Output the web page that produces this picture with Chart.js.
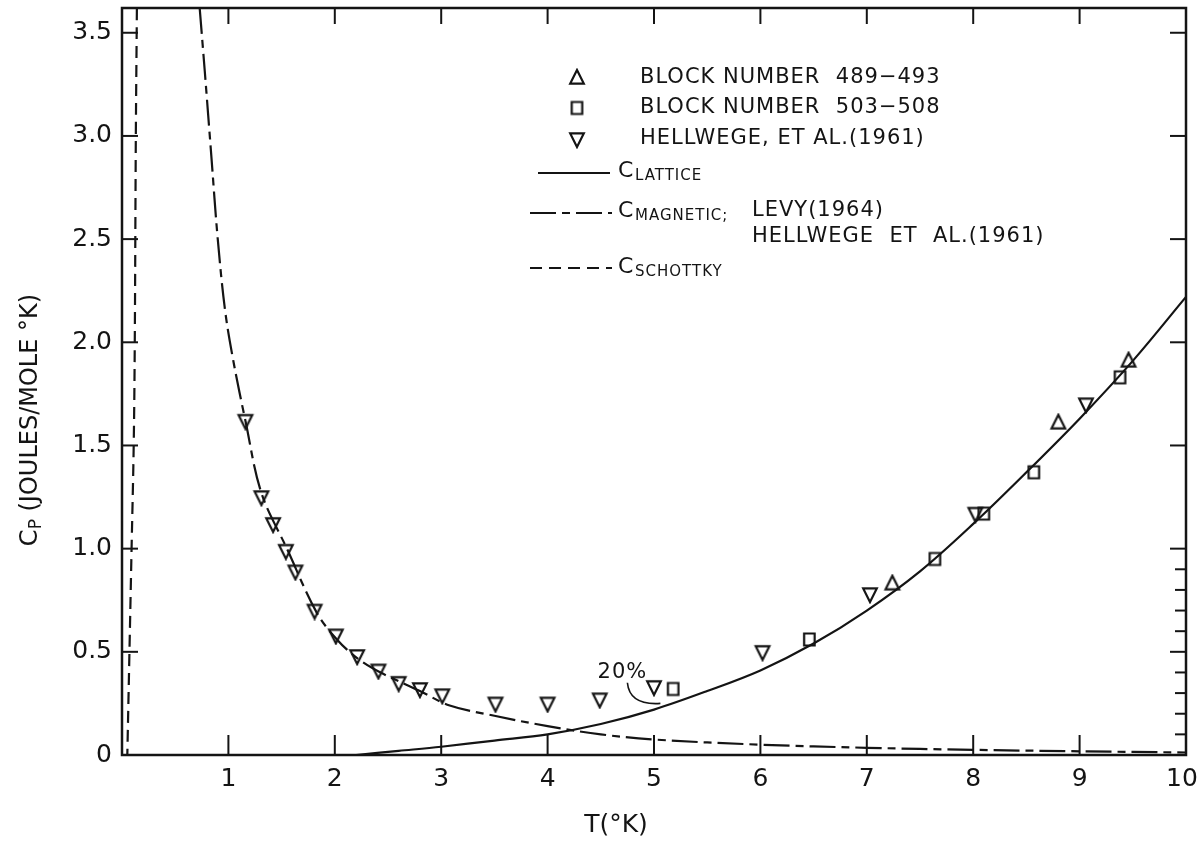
<!DOCTYPE html>
<html>
<head>
<meta charset="utf-8">
<script src="https://cdn.jsdelivr.net/npm/chart.js@4.4.0/dist/chart.umd.min.js"></script>
<style>
  html, body { margin: 0; padding: 0; background: #fff; }
  #wrap { width: 1200px; height: 844px; position: relative; }
</style>
</head>
<body>
<div id="wrap"><canvas id="cp"></canvas></div>
<script>
// ── Data ────────────────────────────────────────────────────────────────────
var xTicks = [1, 2, 3, 4, 5, 6, 7, 8, 9, 10];
var xTickLabels = ['1', '2', '3', '4', '5', '6', '7', '8', '9', '10'];
var yTicks = [0, 0.5, 1, 1.5, 2, 2.5, 3, 3.5];
var yTickLabels = ['0', '0.5', '1.0', '1.5', '2.0', '2.5', '3.0', '3.5'];
var yMinorRight = [0.1, 0.2, 0.3, 0.4, 0.6, 0.7, 0.8, 0.9];

// Block number 489-493 (up triangles)
var block489T  = [7.24, 8.8, 9.46];
var block489Cp = [0.83, 1.61, 1.91];

// Block number 503-508 (squares)
var block503T  = [5.18, 6.46, 7.64, 8.1, 8.57, 9.38];
var block503Cp = [0.32, 0.56, 0.95, 1.17, 1.37, 1.83];

// Hellwege et al. (1961) (down triangles)
var hellwegeT  = [1.16, 1.31, 1.42, 1.54, 1.63, 1.81, 2.01, 2.21, 2.41, 2.60, 2.80, 3.01, 3.51, 4.0, 4.49, 5.0, 6.02, 7.03, 8.02, 9.06];
var hellwegeCp = [1.62, 1.25, 1.12, 0.99, 0.89, 0.70, 0.58, 0.48, 0.41, 0.35, 0.32, 0.29, 0.25, 0.25, 0.27, 0.33, 0.50, 0.78, 1.17, 1.70];

// C lattice (solid)
var latticeT  = [2.2, 2.6, 3.0, 3.5, 4.0, 4.5, 5.0, 5.5, 6.0, 6.5, 7.0, 7.5, 8.0, 8.5, 9.0, 9.5, 10.0];
var latticeCp = [0.0, 0.02, 0.04, 0.07, 0.10, 0.15, 0.22, 0.31, 0.41, 0.54, 0.70, 0.89, 1.12, 1.37, 1.63, 1.91, 2.22];

// C magnetic (long dash - short dash)
var magneticT  = [0.73, 0.78, 0.84, 0.9, 0.97, 1.05, 1.16, 1.31, 1.55, 1.83, 2.02, 2.21, 2.43, 2.8, 3.08, 3.5, 4.0, 4.5, 5.0, 6.0, 7.0, 8.0, 9.0, 10.0];
var magneticCp = [3.62, 3.3, 2.9, 2.5, 2.15, 1.9, 1.62, 1.27, 1.0, 0.69, 0.56, 0.47, 0.40, 0.31, 0.24, 0.19, 0.14, 0.10, 0.075, 0.05, 0.035, 0.025, 0.018, 0.012];

// C Schottky (short dashes) - steep rise near T = 0
var schottkyT  = [0.14, 0.13, 0.12, 0.11, 0.09, 0.07, 0.05];
var schottkyCp = [3.62, 3.0, 2.0, 1.5, 1.0, 0.5, 0.0];

function pts(xs, ys) {
    return xs.map(function(x, i) { return { x: x, y: ys[i] }; });
}

// ── Markers ────────────────────────────────────────────────────────────────
var INK = '#141414';
var FONT = "'DejaVu Sans', sans-serif";

function marker(kind, size) {
    var c = document.createElement('canvas');
    c.width = c.height = size + 4;
    var g = c.getContext('2d');
    var m = (size + 4) / 2, r = size / 2;
    g.strokeStyle = INK;
    g.lineWidth = 2.2;
    g.beginPath();
    if (kind === 'up') {
        g.moveTo(m, m - r); g.lineTo(m + r * 0.85, m + r * 0.7); g.lineTo(m - r * 0.85, m + r * 0.7); g.closePath();
    } else if (kind === 'down') {
        g.moveTo(m, m + r); g.lineTo(m + r * 0.85, m - r * 0.7); g.lineTo(m - r * 0.85, m - r * 0.7); g.closePath();
    } else {
        g.rect(m - r * 0.7, m - r * 0.8, r * 1.4, r * 1.6);
    }
    g.stroke();
    return c;
}
var mkUp = marker('up', 16), mkSq = marker('sq', 15), mkDown = marker('down', 16);

// ── Plugin: frame, inward ticks, tick labels, titles, legend, annotation ──
var extras = {
    id: 'extras',
    afterDatasetsDraw: function(chart) {
        var ctx = chart.ctx, xs = chart.scales.x, ys = chart.scales.y, a = chart.chartArea;
        ctx.save();
        ctx.strokeStyle = INK;
        ctx.fillStyle = INK;
        ctx.lineWidth = 2.5;
        ctx.strokeRect(a.left, a.top, a.right - a.left, a.bottom - a.top);
        ctx.lineWidth = 2;
        xTicks.forEach(function(v) {
            var px = xs.getPixelForValue(v);
            ctx.beginPath(); ctx.moveTo(px, a.top); ctx.lineTo(px, a.top + 16); ctx.stroke();
            ctx.beginPath(); ctx.moveTo(px, a.bottom); ctx.lineTo(px, a.bottom - 20); ctx.stroke();
        });
        yTicks.forEach(function(v) {
            var py = ys.getPixelForValue(v);
            ctx.beginPath(); ctx.moveTo(a.left, py); ctx.lineTo(a.left + 16, py); ctx.stroke();
            ctx.beginPath(); ctx.moveTo(a.right, py); ctx.lineTo(a.right - 16, py); ctx.stroke();
        });
        yMinorRight.forEach(function(v) {
            var py = ys.getPixelForValue(v);
            ctx.beginPath(); ctx.moveTo(a.right, py); ctx.lineTo(a.right - 11, py); ctx.stroke();
        });

        // tick labels
        ctx.textBaseline = 'middle';
        ctx.font = '25px ' + FONT;
        ctx.textAlign = 'center';
        xTicks.forEach(function(v, i) {
            var px = xs.getPixelForValue(v);
            if (i === xTicks.length - 1) px -= 4;   // keep "10" inside the page
            ctx.fillText(xTickLabels[i], px, a.bottom + 24);
        });
        ctx.textAlign = 'right';
        yTicks.forEach(function(v, i) {
            ctx.fillText(yTickLabels[i], a.left - 10, ys.getPixelForValue(v));
        });

        // axis titles
        ctx.textAlign = 'center';
        ctx.fillText('T(\u00b0K)', 616, 825);

        ctx.save();
        ctx.translate(31, 420);
        ctx.rotate(-Math.PI / 2);
        ctx.textAlign = 'left';
        ctx.font = '24px ' + FONT;
        var wC = ctx.measureText('C').width;
        var rest = ' (JOULES/MOLE \u00b0K)';
        var wR = ctx.measureText(rest).width;
        ctx.font = '17px ' + FONT;
        var wP = ctx.measureText('P').width;
        var x0 = -(wC + wP + wR) / 2;
        ctx.font = '24px ' + FONT;
        ctx.fillText('C', x0, 0);
        ctx.font = '17px ' + FONT;
        ctx.fillText('P', x0 + wC, 6);
        ctx.font = '24px ' + FONT;
        ctx.fillText(rest, x0 + wC + wP, 0);
        ctx.restore();

        // legend
        ctx.textAlign = 'left';
        ctx.font = '21px ' + FONT;
        if ('letterSpacing' in ctx) ctx.letterSpacing = '1px';
        var rows = [
            { mk: mkUp, y: 78, text: 'BLOCK NUMBER  489\u2212493' },
            { mk: mkSq, y: 108, text: 'BLOCK NUMBER  503\u2212508' },
            { mk: mkDown, y: 139, text: 'HELLWEGE, ET AL.(1961)' }
        ];
        rows.forEach(function(r) {
            ctx.drawImage(r.mk, 577 - r.mk.width / 2, r.y - r.mk.height / 2);
            ctx.fillText(r.text, 640, r.y);
        });
        function sub(y, word) {
            ctx.font = '22px ' + FONT;
            ctx.fillText('C', 618, y);
            ctx.font = '15px ' + FONT;
            ctx.fillText(word, 635, y + 5);
        }
        ctx.setLineDash([]);
        ctx.beginPath(); ctx.moveTo(538, 173); ctx.lineTo(610, 173); ctx.stroke();
        sub(171, 'LATTICE');
        ctx.setLineDash([26, 6, 8, 6]);
        ctx.beginPath(); ctx.moveTo(530, 213); ctx.lineTo(612, 213); ctx.stroke();
        sub(211, 'MAGNETIC;');
        ctx.font = '21px ' + FONT;
        ctx.fillText('LEVY(1964)', 752, 211);
        ctx.fillText('HELLWEGE  ET  AL.(1961)', 752, 237);
        ctx.setLineDash([12, 7]);
        ctx.beginPath(); ctx.moveTo(530, 268); ctx.lineTo(612, 268); ctx.stroke();
        sub(267, 'SCHOTTKY');
        ctx.setLineDash([]);

        // 20% annotation
        ctx.font = '21px ' + FONT;
        ctx.fillText('20%', xs.getPixelForValue(4.47), ys.getPixelForValue(0.4));
        if ('letterSpacing' in ctx) ctx.letterSpacing = '0px';
        ctx.lineWidth = 1.6;
        ctx.beginPath();
        var ax = xs.getPixelForValue(4.75), ay = ys.getPixelForValue(0.35);
        var cx = xs.getPixelForValue(4.77), cy = ys.getPixelForValue(0.24);
        var bx = xs.getPixelForValue(5.06), by = ys.getPixelForValue(0.25);
        ctx.moveTo(ax, ay);
        ctx.quadraticCurveTo(cx, cy, bx, by);
        ctx.stroke();
        ctx.restore();
    }
};

var lineStyle = { showLine: true, pointRadius: 0, borderColor: INK, borderWidth: 2.2, fill: false, tension: 0.35 };

new Chart(document.getElementById('cp'), {
    type: 'scatter',
    data: {
        datasets: [
            Object.assign({ label: 'C lattice', data: pts(latticeT, latticeCp) }, lineStyle),
            Object.assign({ label: 'C magnetic', data: pts(magneticT, magneticCp), borderDash: [26, 6, 8, 6] }, lineStyle),
            Object.assign({ label: 'C Schottky', data: pts(schottkyT, schottkyCp), borderDash: [12, 7] }, lineStyle),
            { label: 'Block number 489-493', data: pts(block489T, block489Cp), pointStyle: mkUp },
            { label: 'Block number 503-508', data: pts(block503T, block503Cp), pointStyle: mkSq },
            { label: 'Hellwege, et al. (1961)', data: pts(hellwegeT, hellwegeCp), pointStyle: mkDown }
        ]
    },
    options: {
        responsive: true,
        maintainAspectRatio: false,
        animation: false,
        layout: { padding: { left: 0, right: 14, top: 8, bottom: 0 } },
        plugins: { legend: { display: false }, tooltip: { enabled: false } },
        scales: {
            x: {
                type: 'linear', min: 0, max: 10,
                afterFit: function(s) { s.height = 89; },
                grid: { display: false, drawTicks: false },
                border: { display: false },
                ticks: { display: false }
            },
            y: {
                type: 'linear', min: 0, max: 3.62,
                afterFit: function(s) { s.width = 122; },
                grid: { display: false, drawTicks: false },
                border: { display: false },
                ticks: { display: false }
            }
        }
    },
    plugins: [extras]
});
</script>
</body>
</html>
